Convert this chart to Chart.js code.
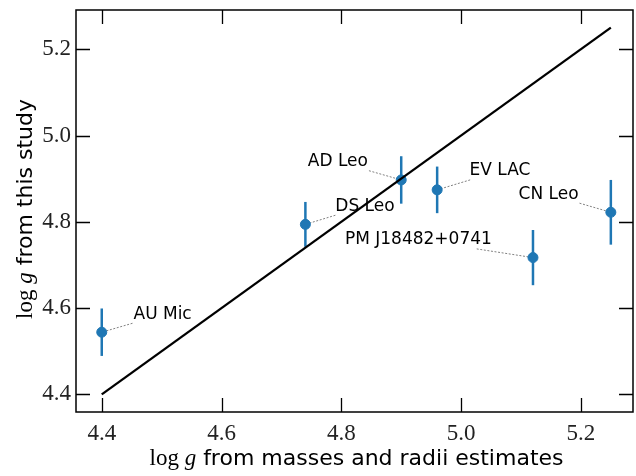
<!DOCTYPE html>
<html>
<head>
<meta charset="utf-8">
<script src="https://cdn.jsdelivr.net/npm/chart.js@4"></script>
<style>
  html, body { margin: 0; padding: 0; background: #fff; }
  canvas { display: block; }
</style>
</head>
<body>
<canvas id="grafico" width="636" height="476"></canvas>
<script>
// stars and log g values
const estrelas = ['AU Mic', 'DS Leo', 'AD Leo', 'EV LAC', 'PM J18482+0741', 'CN Leo'];
const loggMassaRaio = [4.40, 4.74, 4.90, 4.96, 5.12, 5.25];
const loggEstudo = [4.544, 4.794, 4.897, 4.874, 4.717, 4.822];
const loggErro = [0.055, 0.052, 0.055, 0.054, 0.064, 0.075];
// where each name is written (left edge x, middle y, in data units)
const rotuloX = [4.453, 4.790, 4.744, 5.014, 4.806, 5.096];
const rotuloY = [4.585, 4.836, 4.939, 4.918, 4.758, 4.864];
// one-to-one line
const linhaX = [4.40, 5.25];
const ticksX = [4.4, 4.6, 4.8, 5.0, 5.2];
const ticksY = [4.4, 4.6, 4.8, 5.0, 5.2];

const azul = '#1f77b4';
const fonteSerif = '"Liberation Serif", "DejaVu Serif", serif';
const fonteSans = '"DejaVu Sans", sans-serif';

const extras = {
  id: 'extras',
  beforeDatasetsDraw(chart) {
    const { ctx, scales: { x, y } } = chart;
    ctx.save();
    // error bars
    ctx.strokeStyle = azul;
    ctx.lineWidth = 2.5;
    loggMassaRaio.forEach((v, i) => {
      const px = x.getPixelForValue(v);
      ctx.beginPath();
      ctx.moveTo(px, y.getPixelForValue(loggEstudo[i] - loggErro[i]));
      ctx.lineTo(px, y.getPixelForValue(loggEstudo[i] + loggErro[i]));
      ctx.stroke();
    });
    // names with dotted connectors
    ctx.font = '17px ' + fonteSans;
    ctx.textBaseline = 'middle';
    ctx.fillStyle = '#000';
    estrelas.forEach((nome, i) => {
      const tx = x.getPixelForValue(rotuloX[i]);
      const ty = y.getPixelForValue(rotuloY[i]);
      const w = ctx.measureText(nome).width;
      const h = 18;
      const cx = tx + w / 2, cy = ty;
      const px = x.getPixelForValue(loggMassaRaio[i]);
      const py = y.getPixelForValue(loggEstudo[i]);
      const dx = px - cx, dy = py - cy;
      const t = Math.min((w / 2 + 1) / Math.abs(dx || 1e-6), (h / 2) / Math.abs(dy || 1e-6));
      ctx.save();
      ctx.strokeStyle = '#808080';
      ctx.lineWidth = 1;
      ctx.setLineDash([2, 1.6]);
      ctx.beginPath();
      ctx.moveTo(cx + dx * t, cy + dy * t);
      ctx.lineTo(px, py);
      ctx.stroke();
      ctx.restore();
      ctx.fillText(nome, tx, ty);
    });
    ctx.restore();
  },
  afterDraw(chart) {
    const { ctx, chartArea: a, scales: { x, y } } = chart;
    ctx.save();
    ctx.strokeStyle = '#000';
    ctx.lineWidth = 1.5;
    ctx.strokeRect(a.left, a.top, a.right - a.left, a.bottom - a.top);
    // inward ticks on all four sides
    ctx.lineWidth = 1.3;
    const len = 14;
    ctx.beginPath();
    ticksX.forEach(v => {
      const p = Math.round(x.getPixelForValue(v)) + 0.5;
      ctx.moveTo(p, a.bottom); ctx.lineTo(p, a.bottom - len);
      ctx.moveTo(p, a.top); ctx.lineTo(p, a.top + len);
    });
    ticksY.forEach(v => {
      const p = Math.round(y.getPixelForValue(v)) + 0.5;
      ctx.moveTo(a.left, p); ctx.lineTo(a.left + len, p);
      ctx.moveTo(a.right, p); ctx.lineTo(a.right - len, p);
    });
    ctx.stroke();

    // axis titles: serif math part + sans text
    const desenhaTitulo = (sans) => {
      const partes = [
        { t: 'log ', f: '23px ' + fonteSerif },
        { t: 'g', f: 'italic 23px ' + fonteSerif },
        { t: ' ' + sans, f: '22px ' + fonteSans }
      ];
      let total = 0;
      partes.forEach(p => { ctx.font = p.f; p.w = ctx.measureText(p.t).width; total += p.w; });
      let pos = -total / 2;
      ctx.textBaseline = 'alphabetic';
      ctx.textAlign = 'left';
      partes.forEach(p => { ctx.font = p.f; ctx.fillText(p.t, pos, 0); pos += p.w; });
    };
    ctx.fillStyle = '#000';
    ctx.save();
    ctx.translate((a.left + a.right) / 2 + 2, 465);
    desenhaTitulo('from masses and radii estimates');
    ctx.restore();
    ctx.save();
    ctx.translate(32, (a.top + a.bottom) / 2 - 2);
    ctx.rotate(-Math.PI / 2);
    desenhaTitulo('from this study');
    ctx.restore();
    ctx.restore();
  }
};

const semPadding = s => { s.paddingTop = 0; s.paddingBottom = 0; s.paddingLeft = 0; s.paddingRight = 0; };

const ctx = document.getElementById('grafico').getContext('2d');
const grafico = new Chart(ctx, {
  type: 'scatter',
  data: {
    datasets: [
      {
        type: 'line',
        label: '1:1',
        data: linhaX.map(v => ({ x: v, y: v })),
        borderColor: '#000',
        borderWidth: 2.3,
        pointRadius: 0,
        fill: false,
        order: 0
      },
      {
        label: 'log g',
        data: loggMassaRaio.map((v, i) => ({ x: v, y: loggEstudo[i] })),
        backgroundColor: azul,
        borderColor: azul,
        pointRadius: 5,
        pointHoverRadius: 5,
        order: 1
      }
    ]
  },
  plugins: [extras],
  options: {
    responsive: false,
    animation: false,
    layout: { autoPadding: false, padding: { top: 10, right: 3, left: 0, bottom: 0 } },
    plugins: { legend: { display: false }, tooltip: { enabled: false } },
    scales: {
      x: {
        type: 'linear',
        min: 4.357,
        max: 5.287,
        afterFit: s => { s.height = 64; semPadding(s); },
        afterBuildTicks: s => { s.ticks = ticksX.map(v => ({ value: v })); },
        grid: { display: false, drawTicks: false },
        border: { display: false },
        ticks: {
          padding: 8,
          color: '#222',
          font: { family: fonteSerif, size: 23 },
          callback: v => v.toFixed(1)
        }
      },
      y: {
        type: 'linear',
        min: 4.359,
        max: 5.291,
        afterFit: s => { s.width = 76; semPadding(s); },
        afterBuildTicks: s => { s.ticks = ticksY.map(v => ({ value: v })); },
        grid: { display: false, drawTicks: false },
        border: { display: false },
        ticks: {
          padding: 5,
          color: '#222',
          font: { family: fonteSerif, size: 23 },
          callback: v => v.toFixed(1)
        }
      }
    }
  }
});
</script>
</body>
</html>
